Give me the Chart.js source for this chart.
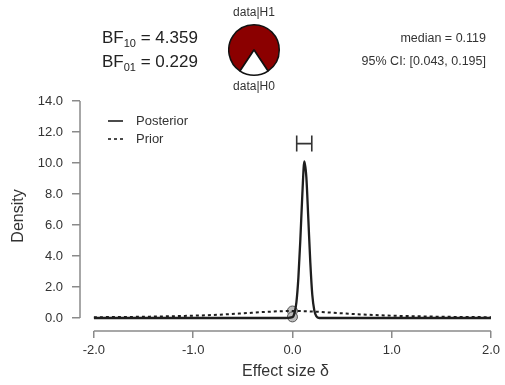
<!DOCTYPE html>
<html>
<head>
<meta charset="utf-8">
<script src="https://cdn.jsdelivr.net/npm/chart.js@4.4.1/dist/chart.umd.min.js"></script>
<style>
  body { margin: 0; background: #fff; }
  #wrap { position: relative; width: 505px; height: 385px; font-family: "Liberation Sans", Arial, sans-serif; color: #222; }
  #main { position: absolute; left: 0; top: 0; }
  #pie { position: absolute; left: 228px; top: 24px; }
  .t { position: absolute; white-space: nowrap; line-height: 17px; }
  .bf { font-size: 17px; left: 102px; }
  .bf sub { font-size: 11px; vertical-align: -4px; line-height: 0; }
  .pl { font-size: 12px; width: 80px; text-align: center; left: 214px; color: #333; }
  .rt { font-size: 12.5px; right: 19px; text-align: right; color: #333; }
</style>
</head>
<body>
<div id="wrap">
  <canvas id="main" width="505" height="385"></canvas>
  <canvas id="pie" width="52" height="52"></canvas>
  <div class="t bf" style="top:29px">BF<sub>10</sub> = 4.359</div>
  <div class="t bf" style="top:53px">BF<sub>01</sub> = 0.229</div>
  <div class="t pl" style="top:4px">data|H1</div>
  <div class="t pl" style="top:78px">data|H0</div>
  <div class="t rt" style="top:30px">median = 0.119</div>
  <div class="t rt" style="top:53px">95% CI: [0.043, 0.195]</div>
</div>
<script>
// posterior density
const postX = [-2.0, -1.0, -0.5, -0.1, 0.0, 0.02, 0.04, 0.06, 0.08, 0.10, 0.12, 0.14, 0.16, 0.18, 0.20, 0.22, 0.24, 0.27, 0.5, 1.0, 2.0];
const postY = [0.0, 0.0, 0.0, 0.0, 0.06, 0.3, 1.0, 2.6, 5.1, 8.0, 10.1, 9.1, 6.4, 3.6, 1.5, 0.5, 0.12, 0.0, 0.0, 0.0, 0.0];

// prior density
const priorX = [-2.0, -1.5, -1.0, -0.75, -0.5, -0.25, 0.0, 0.25, 0.5, 0.75, 1.0, 1.5, 2.0];
const priorY = [0.05, 0.08, 0.15, 0.21, 0.30, 0.40, 0.45, 0.40, 0.30, 0.21, 0.15, 0.08, 0.05];

// densities at delta = 0 (prior, posterior)
const zeroPts = [0.45, 0.07];

const ciLow = 0.043, ciHigh = 0.195, ciLevel = 11.25;

const xTicks = [-2, -1, 0, 1, 2];
const yTicks = [0, 2, 4, 6, 8, 10, 12, 14];

// pie: P(data|H1) vs P(data|H0)
const pieLabels = ['data|H1', 'data|H0'];
const bf10 = 4.359;
const pieShare = [bf10 / (1 + bf10), 1 / (1 + bf10)];

const axisColor = '#8a8a8a';
const fontFam = '"Liberation Sans", Arial, sans-serif';

function toPts(xs, ys) {
  return xs.map((x, i) => ({ x: x, y: ys[i] }));
}

const extras = {
  id: 'extras',
  afterDraw(chart) {
    const ctx = chart.ctx, xs = chart.scales.x, ys = chart.scales.y;
    const area = chart.chartArea;
    ctx.save();
    // R style axis lines
    ctx.strokeStyle = axisColor;
    ctx.lineWidth = 1.5;
    ctx.beginPath();
    ctx.moveTo(xs.getPixelForValue(xTicks[0]), area.bottom);
    ctx.lineTo(xs.getPixelForValue(xTicks[xTicks.length - 1]), area.bottom);
    ctx.moveTo(area.left, ys.getPixelForValue(yTicks[0]));
    ctx.lineTo(area.left, ys.getPixelForValue(yTicks[yTicks.length - 1]));
    ctx.stroke();

    // credible interval bar
    const x1 = xs.getPixelForValue(ciLow), x2 = xs.getPixelForValue(ciHigh);
    const yc = ys.getPixelForValue(ciLevel);
    ctx.strokeStyle = '#333';
    ctx.lineWidth = 1.6;
    ctx.beginPath();
    ctx.moveTo(x1, yc); ctx.lineTo(x2, yc);
    ctx.moveTo(x1, yc - 8); ctx.lineTo(x1, yc + 8);
    ctx.moveTo(x2, yc - 8); ctx.lineTo(x2, yc + 8);
    ctx.stroke();

    // legend
    let ly = 121;
    ctx.font = '13px ' + fontFam;
    ctx.textBaseline = 'middle';
    chart.data.datasets.forEach(ds => {
      if (!ds.showLine) return;
      ctx.strokeStyle = ds.borderColor;
      ctx.lineWidth = 1.6;
      ctx.setLineDash(ds.borderDash || []);
      ctx.beginPath();
      ctx.moveTo(108, ly); ctx.lineTo(123, ly);
      ctx.stroke();
      ctx.setLineDash([]);
      ctx.fillStyle = '#333';
      ctx.fillText(ds.label, 136, ly);
      ly += 18;
    });
    ctx.restore();
  }
};

new Chart(document.getElementById('main'), {
  type: 'scatter',
  data: {
    datasets: [
      {
        label: 'Posterior',
        data: toPts(postX, postY),
        showLine: true,
        borderColor: '#1e1e1e',
        borderWidth: 2.3,
        pointRadius: 0,
        cubicInterpolationMode: 'monotone'
      },
      {
        label: 'Prior',
        data: toPts(priorX, priorY),
        showLine: true,
        borderColor: '#1e1e1e',
        borderWidth: 2,
        borderDash: [3, 3],
        pointRadius: 0,
        cubicInterpolationMode: 'monotone'
      },
      {
        label: 'zero',
        data: zeroPts.map(v => ({ x: 0, y: v })),
        pointRadius: 5,
        pointBackgroundColor: '#bdbdbd',
        pointBorderColor: '#555',
        pointBorderWidth: 1
      }
    ]
  },
  options: {
    responsive: false,
    animation: false,
    layout: { autoPadding: false, padding: { top: 101, right: 11, left: 0, bottom: 0 } },
    plugins: { legend: { display: false }, tooltip: { enabled: false } },
    scales: {
      x: {
        type: 'linear',
        min: -2.14,
        max: 2.0,
        border: { display: false },
        grid: { drawOnChartArea: false, drawTicks: true, tickLength: 7, color: axisColor, lineWidth: 1.5 },
        afterBuildTicks: s => { s.ticks = xTicks.map(v => ({ value: v })); },
        afterFit: s => { s.height = 54; },
        ticks: {
          padding: 5,
          color: '#333',
          maxRotation: 0,
          font: { family: fontFam, size: 13 },
          callback: v => v.toFixed(1)
        },
        title: { display: true, text: 'Effect size δ', color: '#333', font: { family: fontFam, size: 16 }, padding: { top: 4, bottom: 4 } }
      },
      y: {
        type: 'linear',
        min: -0.84,
        max: 14,
        border: { display: false },
        grid: { drawOnChartArea: false, drawTicks: true, tickLength: 8, color: axisColor, lineWidth: 1.5 },
        afterBuildTicks: s => { s.ticks = yTicks.map(v => ({ value: v })); },
        afterFit: s => { s.width = 80; },
        ticks: {
          padding: 9,
          color: '#333',
          font: { family: fontFam, size: 13 },
          callback: v => v.toFixed(1)
        },
        title: { display: true, text: 'Density', color: '#333', font: { family: fontFam, size: 16 }, padding: { top: 9, bottom: 4 } }
      }
    }
  },
  plugins: [extras]
});

new Chart(document.getElementById('pie'), {
  type: 'pie',
  data: {
    labels: pieLabels,
    datasets: [{
      data: pieShare,
      backgroundColor: ['#8b0000', '#ffffff'],
      borderColor: '#111',
      borderWidth: 1.5
    }]
  },
  options: {
    responsive: false,
    animation: false,
    rotation: -pieShare[0] * 180,
    plugins: { legend: { display: false }, tooltip: { enabled: false } }
  }
});
</script>
</body>
</html>
